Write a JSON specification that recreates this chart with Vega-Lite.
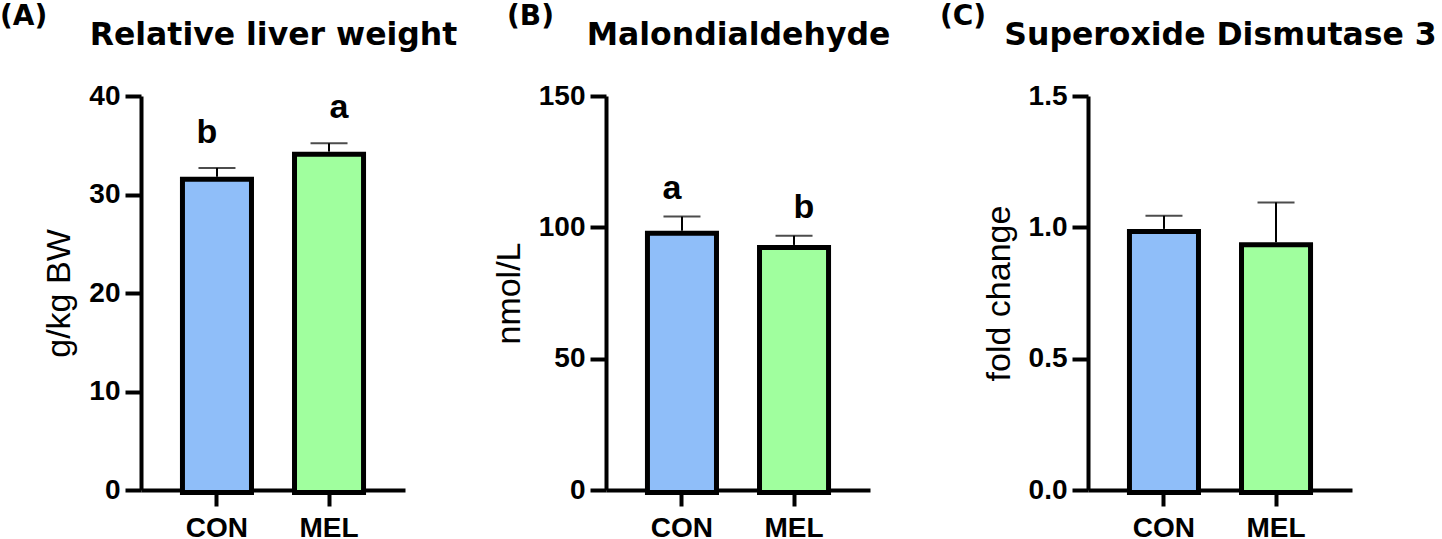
{
  "$schema": "https://vega.github.io/schema/vega-lite/v6.json",
  "padding": {"left": 0, "top": 3, "right": 0, "bottom": 0},
  "autosize": {"type": "pad"},
  "background": "white",
  "bounds": "flush",
  "spacing": 201,
  "config": {
    "view": {"stroke": null},
    "font": "Liberation Sans",
    "axis": {
      "grid": false,
      "minExtent": 0,
      "domainColor": "black", "domainWidth": 4,
      "tickColor": "black", "tickWidth": 4, "tickSize": 16,
      "labelColor": "black", "labelFont": "Liberation Sans", "labelFontWeight": "bold", "labelFontSize": 28,
      "titleColor": "black", "titleFont": "Liberation Sans", "titleFontWeight": "normal", "titleFontSize": 34
    },
    "axisX": {"labelAngle": 0, "labelPadding": 8},
    "axisY": {"labelPadding": 5, "titlePadding": 12},
    "title": {"font": "DejaVu Sans", "fontSize": 28, "fontWeight": "bold", "color": "black", "anchor": "start", "frame": "group", "offset": -12}
  },
  "hconcat": [
    {
      "title": {"text": "(A)", "dx": -141},
      "width": 264, "height": 394,
      "data": {"values": [
        {"group": "CON", "mean": 31.8, "upper": 32.7, "sig": "b"},
        {"group": "MEL", "mean": 34.35, "upper": 35.2, "sig": "a"}
      ]},
      "resolve": {"scale": {"x": "independent"}},
      "layer": [
        {
          "encoding": {"x": {"field": "group", "type": "nominal", "sort": ["CON", "MEL"], "scale": {"paddingInner": 0.384, "paddingOuter": 0.37}, "title": null, "axis": {"orient": "bottom"}}},
          "layer": [
            {"mark": {"type": "bar", "stroke": "black", "strokeWidth": 5, "yOffset": 2.5, "y2Offset": -2.5},
             "encoding": {
               "y": {"field": "mean", "type": "quantitative", "title": "g/kg BW", "scale": {"domain": [0, 40], "nice": false}, "axis": {"values": [0, 10, 20, 30, 40]}},
               "color": {"field": "group", "type": "nominal", "scale": {"domain": ["CON", "MEL"], "range": ["#8FBEF9", "#A0FF9E"]}, "legend": null}}},
            {"mark": {"type": "rule", "color": "black", "strokeWidth": 2},
             "encoding": {"y": {"field": "mean", "type": "quantitative", "title": "g/kg BW", "scale": {"domain": [0, 40], "nice": false}}, "y2": {"field": "upper"}}},
            {"mark": {"type": "tick", "color": "black", "size": 37, "thickness": 2},
             "encoding": {"y": {"field": "upper", "type": "quantitative", "title": "g/kg BW", "scale": {"domain": [0, 40], "nice": false}}}}
          ]
        },
        {"mark": {"type": "text", "font": "Liberation Sans", "fontSize": 34, "fontWeight": "bold", "baseline": "alphabetic", "dy": -25, "color": "black"},
         "encoding": {
           "x": {"field": "group", "type": "nominal", "sort": ["CON", "MEL"], "scale": {"paddingInner": 0.384, "paddingOuter": 0.37},
                 "axis": {"orient": "top", "title": "Relative liver weight", "labels": false, "ticks": false, "domain": false, "titleFont": "DejaVu Sans", "titleFontWeight": "bold", "titleFontSize": 31.5, "titlePadding": 45}},
           "y": {"field": "upper", "type": "quantitative", "title": "g/kg BW", "scale": {"domain": [0, 40], "nice": false}},
           "text": {"field": "sig"}}}
      ]
    },
    {
      "title": {"text": "(B)", "dx": -99},
      "width": 281, "height": 394,
      "data": {"values": [
        {"group": "CON", "mean": 98.7, "upper": 104.1, "sig": "a"},
        {"group": "MEL", "mean": 93.3, "upper": 96.8, "sig": "b"}
      ]},
      "resolve": {"scale": {"x": "independent"}},
      "layer": [
        {
          "encoding": {"x": {"field": "group", "type": "nominal", "sort": ["CON", "MEL"], "scale": {"range": [0, 264], "paddingInner": 0.384, "paddingOuter": 0.37}, "title": null, "axis": {"orient": "bottom"}}},
          "layer": [
            {"mark": {"type": "bar", "stroke": "black", "strokeWidth": 5, "yOffset": 2.5, "y2Offset": -2.5},
             "encoding": {
               "y": {"field": "mean", "type": "quantitative", "title": "nmol/L", "scale": {"domain": [0, 150], "nice": false}, "axis": {"values": [0, 50, 100, 150]}},
               "color": {"field": "group", "type": "nominal", "scale": {"domain": ["CON", "MEL"], "range": ["#8FBEF9", "#A0FF9E"]}, "legend": null}}},
            {"mark": {"type": "rule", "color": "black", "strokeWidth": 2},
             "encoding": {"y": {"field": "mean", "type": "quantitative", "title": "nmol/L", "scale": {"domain": [0, 150], "nice": false}}, "y2": {"field": "upper"}}},
            {"mark": {"type": "tick", "color": "black", "size": 37, "thickness": 2},
             "encoding": {"y": {"field": "upper", "type": "quantitative", "title": "nmol/L", "scale": {"domain": [0, 150], "nice": false}}}}
          ]
        },
        {"mark": {"type": "text", "font": "Liberation Sans", "fontSize": 34, "fontWeight": "bold", "baseline": "alphabetic", "dy": -18, "color": "black"},
         "encoding": {
           "x": {"field": "group", "type": "nominal", "sort": ["CON", "MEL"], "scale": {"range": [0, 264], "paddingInner": 0.384, "paddingOuter": 0.37},
                 "axis": {"orient": "top", "title": "Malondialdehyde", "labels": false, "ticks": false, "domain": false, "titleFont": "DejaVu Sans", "titleFontWeight": "bold", "titleFontSize": 31.5, "titlePadding": 45}},
           "y": {"field": "upper", "type": "quantitative", "title": "nmol/L", "scale": {"domain": [0, 150], "nice": false}},
           "text": {"field": "sig"}}}
      ]
    },
    {
      "title": {"text": "(C)", "dx": -148},
      "width": 264, "height": 394,
      "data": {"values": [
        {"group": "CON", "mean": 0.994, "upper": 1.044},
        {"group": "MEL", "mean": 0.943, "upper": 1.095}
      ]},
      "resolve": {"scale": {"x": "independent"}},
      "layer": [
        {
          "encoding": {"x": {"field": "group", "type": "nominal", "sort": ["CON", "MEL"], "scale": {"paddingInner": 0.384, "paddingOuter": 0.37}, "title": null, "axis": {"orient": "bottom"}}},
          "layer": [
            {"mark": {"type": "bar", "stroke": "black", "strokeWidth": 5, "yOffset": 2.5, "y2Offset": -2.5},
             "encoding": {
               "y": {"field": "mean", "type": "quantitative", "title": "fold change", "scale": {"domain": [0, 1.5], "nice": false}, "axis": {"values": [0, 0.5, 1, 1.5], "format": ".1f"}},
               "color": {"field": "group", "type": "nominal", "scale": {"domain": ["CON", "MEL"], "range": ["#8FBEF9", "#A0FF9E"]}, "legend": null}}},
            {"mark": {"type": "rule", "color": "black", "strokeWidth": 2},
             "encoding": {"y": {"field": "mean", "type": "quantitative", "title": "fold change", "scale": {"domain": [0, 1.5], "nice": false}}, "y2": {"field": "upper"}}}
          ]
        },
        {"mark": {"type": "tick", "color": "black", "size": 37, "thickness": 2},
         "encoding": {
           "x": {"field": "group", "type": "nominal", "sort": ["CON", "MEL"], "scale": {"paddingInner": 0.384, "paddingOuter": 0.37},
                 "axis": {"orient": "top", "title": "Superoxide Dismutase 3", "labels": false, "ticks": false, "domain": false, "titleFont": "DejaVu Sans", "titleFontWeight": "bold", "titleFontSize": 31.5, "titlePadding": 45}},
           "y": {"field": "upper", "type": "quantitative", "title": "fold change", "scale": {"domain": [0, 1.5], "nice": false}}}}
      ]
    }
  ]
}
